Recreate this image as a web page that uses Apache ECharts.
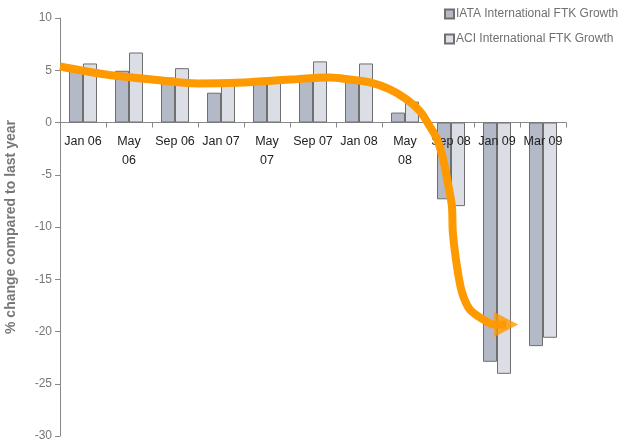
<!DOCTYPE html>
<html>
<head>
<meta charset="utf-8">
<script src="https://cdn.jsdelivr.net/npm/echarts@6/dist/echarts.min.js"></script>
<style>
html,body{margin:0;padding:0;background:#fff;}
#chart{width:630px;height:444px;}
</style>
</head>
<body>
<div id="chart"></div>
<script>
var categories = ['Jan 06','May\n06','Sep 06','Jan 07','May\n07','Sep 07','Jan 08','May\n08','Sep 08','Jan 09','Mar 09'];
var iata = [5.0, 4.95, 4.3, 2.85, 4.25, 4.55, 4.1, 0.95, -7.35, -22.9, -21.4];
var aci = [5.65, 6.7, 5.2, 3.7, 4.0, 5.85, 5.65, 2.0, -8.0, -24.05, -20.6];
var yTicks = {min: -30, max: 10, interval: 5};
// trend arrow annotation, in [category position, value]
var arrowPath = [
  [0.0, 5.36], [1.0, 4.59], [2.0, 4.11], [3.0, 3.73], [4.0, 3.83], [5.0, 4.11],
  [5.87, 4.31], [6.30, 4.11], [6.74, 3.83], [7.17, 3.16], [7.54, 2.20], [7.83, 1.05],
  [8.04, -0.38], [8.20, -1.63], [8.33, -3.54], [8.43, -5.74], [8.52, -8.04],
  [8.54, -10.53], [8.63, -13.78], [8.74, -16.27], [8.91, -17.89], [9.20, -18.85],
  [9.43, -19.33], [9.70, -19.33]
];
var arrowHead = [9.70, -19.33];

var chart = echarts.init(document.getElementById('chart'));
var font = 'Liberation Sans, Arial, sans-serif';
var ob = {left: -300, right: -300, top: -300, bottom: -300};
chart.setOption({
  animation: false,
  backgroundColor: '#fff',
  textStyle: {fontFamily: font},
  grid: [
    {left: 60, right: 64, top: 18, bottom: 8, containLabel: false, outerBounds: ob},
    {left: 60, right: 64, top: 18, height: 105, containLabel: false, outerBounds: ob}
  ],
  legend: {
    data: ['IATA International FTK Growth', 'ACI International FTK Growth'],
    orient: 'vertical',
    left: 439, top: 3,
    itemWidth: 9, itemHeight: 9, itemGap: 13,
    icon: 'rect',
    textStyle: {color: '#707070', fontSize: 12, fontFamily: font, padding: [0,0,0,-3]}
  },
  xAxis: [{
    type: 'category', gridIndex: 0,
    data: categories,
    axisLine: {onZero: true, lineStyle: {color: '#888', width: 1}},
    axisTick: {show: true, length: 5, lineStyle: {color: '#888'}, interval: 0},
    axisLabel: {show: false},
    splitLine: {show: false}
  }, {
    type: 'value', gridIndex: 0, min: 0, max: 11, show: false
  }, {
    type: 'category', gridIndex: 1, z: 10,
    data: categories,
    axisLine: {show: false},
    axisTick: {show: false},
    axisLabel: {show: true, interval: 0, color: '#222', fontSize: 12.5, lineHeight: 19, margin: 9, fontFamily: font},
    splitLine: {show: false}
  }],
  yAxis: [{
    type: 'value', gridIndex: 0,
    min: yTicks.min, max: yTicks.max, interval: yTicks.interval,
    name: '% change compared to last year',
    nameLocation: 'middle', nameGap: 42, nameRotate: 90,
    nameTextStyle: {color: '#777', fontSize: 14, fontWeight: 'bold', fontFamily: font},
    axisLine: {show: true, lineStyle: {color: '#888'}},
    axisTick: {show: true, length: 5, lineStyle: {color: '#888'}},
    axisLabel: {color: '#777', fontSize: 12, margin: 8, fontFamily: font},
    splitLine: {show: false}
  }, {
    type: 'value', gridIndex: 1, min: 0, max: 10, show: false
  }],
  series: [{
    name: 'IATA International FTK Growth',
    type: 'bar', data: iata, barWidth: 14, barGap: '0%',
    itemStyle: {color: '#b3b9c6', borderColor: '#6f6f6f', borderWidth: 1}
  }, {
    name: 'ACI International FTK Growth',
    type: 'bar', data: aci, barWidth: 14, barGap: '0%',
    itemStyle: {color: '#dcdee6', borderColor: '#6f6f6f', borderWidth: 1}
  }, {
    name: 'trend', type: 'line', xAxisIndex: 1, data: arrowPath,
    smooth: 0.3, smoothMonotone: 'none', showSymbol: false, symbol: 'none', z: 20,
    lineStyle: {color: '#ff9900', width: 8, cap: 'butt'},
    silent: true
  }, {
    name: 'trendHead', type: 'scatter', xAxisIndex: 1, data: [arrowHead],
    symbol: 'triangle', symbolSize: [25, 24], symbolRotate: -90, z: 21,
    itemStyle: {color: '#ff9900'}, silent: true
  }]
});
</script>
</body>
</html>
